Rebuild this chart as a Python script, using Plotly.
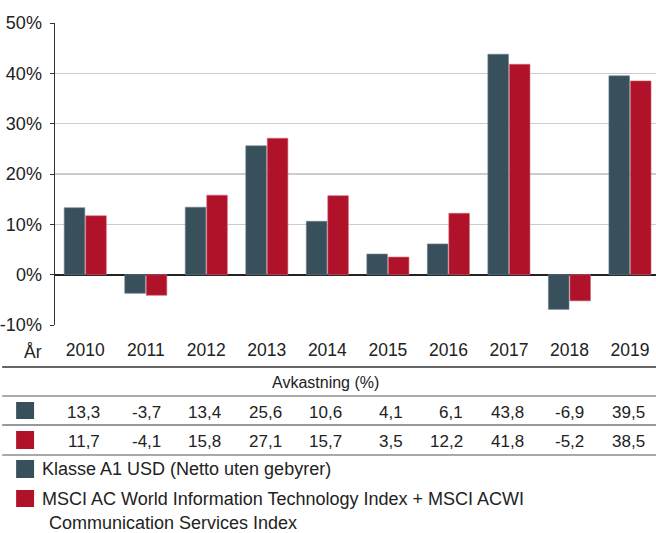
import plotly.graph_objects as go

years = ["2010", "2011", "2012", "2013", "2014", "2015", "2016", "2017", "2018", "2019"]
fund = [13.3, -3.7, 13.4, 25.6, 10.6, 4.1, 6.1, 43.8, -6.9, 39.5]
index = [11.7, -4.1, 15.8, 27.1, 15.7, 3.5, 12.2, 41.8, -5.2, 38.5]
fund_name = "Klasse A1 USD (Netto uten gebyrer)"
index_name_1 = "MSCI AC World Information Technology Index + MSCI ACWI"
index_name_2 = "Communication Services Index"
y_ticks = [-10, 0, 10, 20, 30, 40, 50]
y_ticktext = ["-10%", "0%", "10%", "20%", "30%", "40%", "50%"]
table_title = "Avkastning (%)"
year_label = "År"

DARK = "#37505c"
RED = "#af1229"
TXT = "#222222"
FONT = "Liberation Sans, Arial, sans-serif"

W, H = 656, 533
L, T, B_PX = 53, 23, 325
PW = W - L
PH = B_PX - T
X_RANGE = [-0.5, 9.43]


def py(ypx):
    return (B_PX - ypx) / PH


def px(xpx):
    return (xpx - L) / PW


def cat_paper(i):
    return (i - X_RANGE[0]) / (X_RANGE[1] - X_RANGE[0])


fig = go.Figure()
fig.add_trace(go.Bar(x=years, y=fund, name=fund_name, marker=dict(color=DARK, line=dict(color="#6d8290", width=0.6)), showlegend=False, hoverinfo="skip"))
fig.add_trace(go.Bar(x=years, y=index, name=index_name_1, marker=dict(color=RED, line=dict(color="#d46a78", width=0.6)), showlegend=False, hoverinfo="skip"))

shapes = []
annotations = []

for ypx, col, w in [(367, "#333333", 1.5), (396, "#555555", 1.2), (425, "#333333", 1.2), (455, "#555555", 1.2)]:
    shapes.append(dict(type="line", xref="paper", yref="paper", x0=px(0), x1=1, y0=py(ypx), y1=py(ypx),
                       line=dict(color=col, width=w)))

for (y0, y1), col in [((402, 419), DARK), ((431, 449), RED), ((460, 478), DARK), ((490, 507), RED)]:
    shapes.append(dict(type="rect", xref="paper", yref="paper", x0=px(14), x1=px(32), y0=py(y1), y1=py(y0),
                       fillcolor=col, line=dict(width=0)))

annotations.append(dict(text=year_label, xref="paper", yref="paper", x=px(31), y=py(352), showarrow=False,
                        xanchor="center", yanchor="middle", font=dict(size=17.5, color=TXT, family=FONT)))
annotations.append(dict(text=table_title, xref="paper", yref="paper", x=px(324), y=py(382), showarrow=False,
                        xanchor="center", yanchor="middle", font=dict(size=16, color=TXT, family=FONT)))

for i, yr in enumerate(years):
    for vals, ypx in [(fund, 412), (index, 441)]:
        annotations.append(dict(text=f"{vals[i]:.1f}".replace(".", ","), xref="paper", yref="paper",
                                x=cat_paper(i), y=py(ypx),
                                showarrow=False, xanchor="right", yanchor="middle", xshift=17,
                                font=dict(size=17, color=TXT, family=FONT)))

for text, xpx, ypx in [(fund_name, 38, 469), (index_name_1, 38, 499), (index_name_2, 45, 523)]:
    annotations.append(dict(text=text, xref="paper", yref="paper", x=px(xpx), y=py(ypx), showarrow=False,
                            xanchor="left", yanchor="middle", font=dict(size=18, color=TXT, family=FONT)))

fig.update_layout(
    width=W, height=H,
    margin=dict(l=L, r=0, t=T, b=H - B_PX, pad=0),
    paper_bgcolor="white", plot_bgcolor="white",
    barmode="group", bargap=0.29, bargroupgap=0.04,
    font=dict(family=FONT, color=TXT, size=16),
    shapes=shapes, annotations=annotations,
    xaxis=dict(type="category", range=X_RANGE, showgrid=False, showline=False, ticks="",
               tickfont=dict(size=17.5, color=TXT), ticklabelstandoff=12, fixedrange=True),
    yaxis=dict(range=[-10, 50], tickvals=y_ticks, ticktext=y_ticktext, showgrid=True, gridcolor="#cccccc",
               gridwidth=1.2, zeroline=True, zerolinecolor="#222222", zerolinewidth=2,
               showline=True, linecolor="#333333", linewidth=1.5, ticks="outside", ticklen=4,
               tickcolor="#333333", tickfont=dict(size=18, color=TXT), ticklabelstandoff=4, fixedrange=True),
)

fig.write_html("out.html", config={"displayModeBar": False, "staticPlot": True},
               post_script="document.body.style.margin='0';document.body.style.overflow='hidden';")
